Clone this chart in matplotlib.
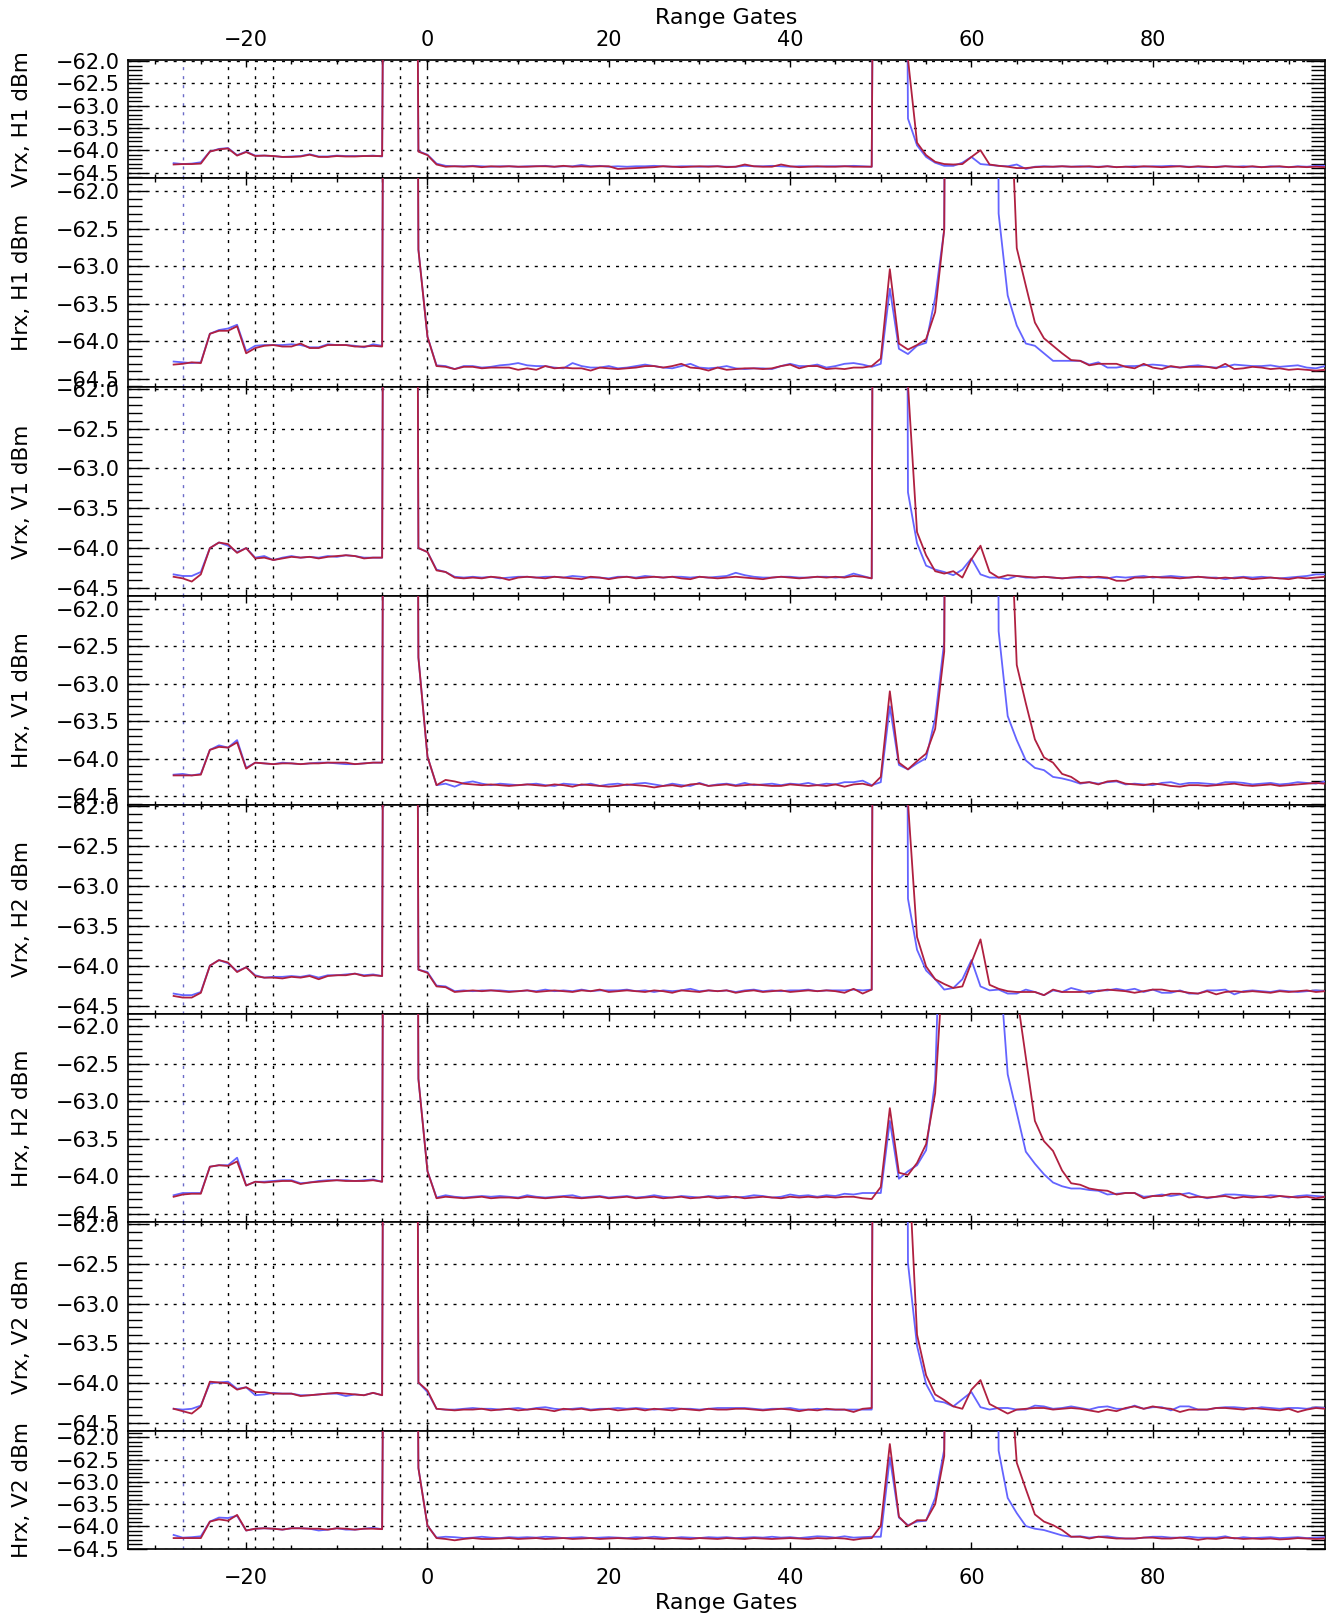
import matplotlib
matplotlib.use('Agg')
import matplotlib.pyplot as plt
from matplotlib.ticker import MultipleLocator, FuncFormatter

plt.rcParams['font.family'] = ['DejaVu Sans']

# range gate of every sample
gates = list(range(-28, 100))
marker_gates = [-22, -19, -17, -3, 0]
pulse_gate = -27

# off-scale samples (clipped at the top of each panel) are kept as -30 dBm
# ---- Vrx, H1
vrx_h1_blue = [
    -64.29, -64.31, -64.30, -64.27, -64.03, -63.97, -63.95, -64.11, -64.03, -64.12,
    -64.12, -64.13, -64.15, -64.14, -64.13, -64.09, -64.14, -64.14, -64.12, -64.13,
    -64.13, -64.13, -64.12, -64.14, -30.0, -30.0, -30.0, -64.02, -64.10, -64.30,
    -64.35, -64.36, -64.36, -64.35, -64.36, -64.37, -64.36, -64.36, -64.37, -64.36,
    -64.36, -64.35, -64.37, -64.36, -64.36, -64.33, -64.36, -64.35, -64.37, -64.36,
    -64.37, -64.36, -64.36, -64.35, -64.36, -64.37, -64.36, -64.36, -64.37, -64.36,
    -64.36, -64.37, -64.37, -64.35, -64.36, -64.36, -64.35, -64.36, -64.37, -64.36,
    -64.36, -64.37, -64.36, -64.36, -64.36, -64.35, -64.36, -64.37, -30.0, -30.0,
    -30.0, -63.29, -63.89, -64.15, -64.28, -64.35, -64.35, -64.28, -64.15, -64.31,
    -64.33, -64.35, -64.36, -64.32, -64.42, -64.37, -64.36, -64.37, -64.36, -64.37,
    -64.36, -64.37, -64.37, -64.36, -64.38, -64.37, -64.36, -64.37, -64.36, -64.36,
    -64.35, -64.36, -64.37, -64.37, -64.38, -64.37, -64.36, -64.37, -64.36, -64.37,
    -64.38, -64.36, -64.37, -64.38, -64.36, -64.37, -64.35, -64.35]
vrx_h1_red = [
    -64.32, -64.31, -64.31, -64.30, -64.03, -63.98, -63.96, -64.12, -64.04, -64.13,
    -64.12, -64.13, -64.15, -64.15, -64.14, -64.10, -64.15, -64.15, -64.13, -64.14,
    -64.14, -64.13, -64.13, -64.13, -30.0, -30.0, -30.0, -64.03, -64.11, -64.32,
    -64.37, -64.36, -64.37, -64.36, -64.38, -64.36, -64.37, -64.36, -64.37, -64.37,
    -64.36, -64.36, -64.37, -64.35, -64.37, -64.36, -64.37, -64.36, -64.36, -64.42,
    -64.41, -64.40, -64.39, -64.38, -64.36, -64.37, -64.38, -64.37, -64.36, -64.37,
    -64.36, -64.38, -64.37, -64.32, -64.36, -64.37, -64.37, -64.32, -64.36, -64.38,
    -64.37, -64.36, -64.37, -64.37, -64.36, -64.37, -64.37, -64.37, -30.0, -30.0,
    -30.0, -61.95, -63.83, -64.11, -64.26, -64.31, -64.32, -64.31, -64.15, -64.00,
    -64.32, -64.35, -64.37, -64.40, -64.40, -64.38, -64.37, -64.37, -64.36, -64.37,
    -64.37, -64.36, -64.38, -64.36, -64.38, -64.37, -64.38, -64.36, -64.37, -64.38,
    -64.37, -64.36, -64.38, -64.36, -64.37, -64.38, -64.36, -64.37, -64.38, -64.36,
    -64.38, -64.37, -64.36, -64.38, -64.37, -64.38, -64.37, -64.38]

# ---- Hrx, H1
hrx_h1_blue = [
    -64.27, -64.28, -64.29, -64.28, -63.90, -63.85, -63.83, -63.78, -64.13, -64.06,
    -64.05, -64.05, -64.05, -64.04, -64.05, -64.08, -64.08, -64.04, -64.05, -64.05,
    -64.06, -64.08, -64.04, -64.06, -30.0, -30.0, -30.0, -62.78, -63.94, -64.32,
    -64.33, -64.37, -64.33, -64.33, -64.35, -64.34, -64.32, -64.31, -64.29, -64.32,
    -64.33, -64.33, -64.35, -64.36, -64.29, -64.33, -64.35, -64.35, -64.33, -64.36,
    -64.35, -64.33, -64.31, -64.33, -64.35, -64.36, -64.33, -64.30, -64.35, -64.36,
    -64.35, -64.33, -64.36, -64.37, -64.36, -64.36, -64.37, -64.33, -64.30, -64.33,
    -64.33, -64.31, -64.35, -64.33, -64.30, -64.29, -64.31, -64.34, -64.30, -63.30,
    -64.10, -64.17, -64.06, -64.02, -63.42, -62.51, -30.0, -30.0, -30.0, -30.0,
    -30.0, -62.30, -63.39, -63.79, -64.03, -64.06, -64.16, -64.26, -64.26, -64.26,
    -64.26, -64.31, -64.28, -64.35, -64.35, -64.33, -64.33, -64.32, -64.31, -64.32,
    -64.34, -64.35, -64.33, -64.32, -64.34, -64.35, -64.34, -64.31, -64.32, -64.33,
    -64.33, -64.32, -64.34, -64.33, -64.32, -64.35, -64.36, -64.33]
hrx_h1_red = [
    -64.31, -64.30, -64.28, -64.29, -63.90, -63.86, -63.86, -63.80, -64.16, -64.09,
    -64.06, -64.05, -64.07, -64.07, -64.03, -64.09, -64.09, -64.05, -64.05, -64.05,
    -64.07, -64.07, -64.06, -64.07, -30.0, -30.0, -30.0, -62.78, -63.94, -64.33,
    -64.34, -64.37, -64.34, -64.34, -64.36, -64.35, -64.35, -64.35, -64.38, -64.36,
    -64.38, -64.33, -64.36, -64.35, -64.36, -64.36, -64.39, -64.35, -64.36, -64.37,
    -64.36, -64.35, -64.33, -64.33, -64.35, -64.33, -64.30, -64.35, -64.36, -64.39,
    -64.35, -64.38, -64.37, -64.36, -64.36, -64.37, -64.36, -64.33, -64.31, -64.36,
    -64.33, -64.33, -64.37, -64.36, -64.37, -64.35, -64.35, -64.33, -64.23, -63.04,
    -64.03, -64.11, -64.05, -63.97, -63.61, -62.51, -40.0, -30.0, -30.0, -30.0,
    -30.0, -30.0, -59.70, -62.76, -63.26, -63.75, -63.96, -64.06, -64.16, -64.25,
    -64.26, -64.32, -64.30, -64.30, -64.30, -64.34, -64.36, -64.30, -64.35, -64.37,
    -64.33, -64.35, -64.34, -64.34, -64.34, -64.36, -64.30, -64.37, -64.36, -64.34,
    -64.35, -64.37, -64.36, -64.38, -64.37, -64.38, -64.39, -64.38]

# ---- Vrx, V1
vrx_v1_blue = [
    -64.33, -64.35, -64.35, -64.30, -64.00, -63.93, -63.97, -64.05, -64.00, -64.12,
    -64.10, -64.15, -64.12, -64.10, -64.12, -64.11, -64.12, -64.10, -64.11, -64.09,
    -64.10, -64.12, -64.12, -64.12, -30.0, -30.0, -30.0, -64.00, -64.05, -64.27,
    -64.30, -64.36, -64.37, -64.36, -64.37, -64.36, -64.38, -64.37, -64.36, -64.36,
    -64.37, -64.36, -64.36, -64.37, -64.35, -64.36, -64.37, -64.37, -64.38, -64.36,
    -64.36, -64.37, -64.35, -64.36, -64.37, -64.36, -64.36, -64.37, -64.36, -64.37,
    -64.36, -64.35, -64.31, -64.34, -64.36, -64.37, -64.37, -64.36, -64.36, -64.37,
    -64.37, -64.36, -64.36, -64.37, -64.36, -64.32, -64.35, -64.38, -30.0, -30.0,
    -30.0, -63.30, -63.94, -64.22, -64.27, -64.30, -64.34, -64.27, -64.13, -64.33,
    -64.37, -64.37, -64.39, -64.35, -64.37, -64.37, -64.36, -64.37, -64.38, -64.37,
    -64.37, -64.36, -64.37, -64.38, -64.36, -64.37, -64.36, -64.35, -64.37, -64.36,
    -64.35, -64.36, -64.37, -64.36, -64.37, -64.37, -64.39, -64.37, -64.36, -64.37,
    -64.36, -64.37, -64.38, -64.37, -64.36, -64.35, -64.33, -64.33]
vrx_v1_red = [
    -64.36, -64.38, -64.42, -64.33, -64.00, -63.93, -63.95, -64.06, -64.00, -64.13,
    -64.12, -64.15, -64.13, -64.11, -64.12, -64.11, -64.13, -64.11, -64.10, -64.09,
    -64.10, -64.13, -64.12, -64.12, -30.0, -30.0, -30.0, -64.00, -64.05, -64.28,
    -64.30, -64.37, -64.38, -64.37, -64.38, -64.36, -64.37, -64.40, -64.37, -64.36,
    -64.37, -64.38, -64.36, -64.37, -64.38, -64.39, -64.36, -64.37, -64.39, -64.37,
    -64.36, -64.38, -64.37, -64.36, -64.37, -64.36, -64.38, -64.39, -64.36, -64.37,
    -64.38, -64.37, -64.36, -64.37, -64.38, -64.39, -64.37, -64.36, -64.37, -64.38,
    -64.37, -64.36, -64.37, -64.36, -64.37, -64.35, -64.36, -64.38, -30.0, -30.0,
    -30.0, -61.95, -63.80, -64.09, -64.29, -64.32, -64.29, -64.37, -64.14, -63.97,
    -64.30, -64.37, -64.34, -64.35, -64.36, -64.37, -64.36, -64.37, -64.38, -64.37,
    -64.36, -64.37, -64.36, -64.37, -64.41, -64.41, -64.37, -64.37, -64.36, -64.37,
    -64.37, -64.38, -64.37, -64.36, -64.37, -64.38, -64.37, -64.38, -64.37, -64.39,
    -64.38, -64.37, -64.38, -64.39, -64.37, -64.38, -64.37, -64.36]

# ---- Hrx, V1
hrx_v1_blue = [
    -64.21, -64.20, -64.22, -64.20, -63.88, -63.82, -63.85, -63.75, -64.12, -64.05,
    -64.06, -64.07, -64.05, -64.06, -64.07, -64.06, -64.05, -64.05, -64.06, -64.07,
    -64.07, -64.06, -64.05, -64.05, -30.0, -30.0, -30.0, -62.65, -63.97, -64.35,
    -64.33, -64.37, -64.32, -64.30, -64.33, -64.35, -64.33, -64.34, -64.35, -64.34,
    -64.33, -64.35, -64.36, -64.33, -64.34, -64.35, -64.33, -64.36, -64.34, -64.33,
    -64.35, -64.33, -64.32, -64.34, -64.36, -64.33, -64.35, -64.36, -64.32, -64.36,
    -64.34, -64.33, -64.35, -64.32, -64.35, -64.34, -64.33, -64.35, -64.33, -64.34,
    -64.32, -64.35, -64.33, -64.34, -64.31, -64.31, -64.29, -64.35, -64.31, -63.30,
    -64.08, -64.14, -64.06, -63.99, -63.46, -62.44, -30.0, -30.0, -30.0, -30.0,
    -30.0, -62.30, -63.43, -63.75, -64.02, -64.12, -64.15, -64.24, -64.26, -64.29,
    -64.33, -64.31, -64.33, -64.31, -64.30, -64.34, -64.33, -64.34, -64.35, -64.32,
    -64.31, -64.34, -64.32, -64.32, -64.33, -64.34, -64.31, -64.31, -64.32, -64.34,
    -64.33, -64.32, -64.34, -64.33, -64.31, -64.32, -64.33, -64.30]
hrx_v1_red = [
    -64.22, -64.22, -64.22, -64.21, -63.88, -63.84, -63.85, -63.78, -64.13, -64.05,
    -64.06, -64.07, -64.06, -64.06, -64.07, -64.06, -64.06, -64.05, -64.05, -64.05,
    -64.07, -64.06, -64.05, -64.05, -30.0, -30.0, -30.0, -62.65, -63.97, -64.35,
    -64.28, -64.30, -64.33, -64.34, -64.35, -64.34, -64.35, -64.36, -64.35, -64.34,
    -64.35, -64.36, -64.34, -64.35, -64.37, -64.34, -64.35, -64.36, -64.37, -64.36,
    -64.34, -64.35, -64.36, -64.38, -64.36, -64.35, -64.37, -64.34, -64.33, -64.36,
    -64.35, -64.34, -64.36, -64.35, -64.34, -64.35, -64.36, -64.36, -64.34, -64.35,
    -64.36, -64.35, -64.36, -64.34, -64.37, -64.34, -64.33, -64.36, -64.24, -63.10,
    -64.05, -64.14, -64.03, -63.93, -63.60, -62.57, -40.0, -30.0, -30.0, -30.0,
    -30.0, -30.0, -59.70, -62.75, -63.26, -63.74, -63.98, -64.05, -64.20, -64.24,
    -64.32, -64.31, -64.34, -64.30, -64.29, -64.33, -64.34, -64.35, -64.33, -64.34,
    -64.36, -64.37, -64.35, -64.35, -64.36, -64.35, -64.34, -64.33, -64.35, -64.36,
    -64.35, -64.34, -64.36, -64.35, -64.34, -64.33, -64.32, -64.33]

# ---- Vrx, H2
vrx_h2_blue = [
    -64.35, -64.37, -64.37, -64.33, -64.00, -63.93, -63.97, -64.07, -64.02, -64.12,
    -64.15, -64.14, -64.14, -64.13, -64.14, -64.12, -64.15, -64.12, -64.12, -64.11,
    -64.10, -64.12, -64.11, -64.13, -30.0, -30.0, -30.0, -64.05, -64.08, -64.25,
    -64.26, -64.32, -64.31, -64.32, -64.31, -64.31, -64.31, -64.32, -64.32, -64.31,
    -64.32, -64.30, -64.32, -64.31, -64.32, -64.30, -64.32, -64.31, -64.31, -64.31,
    -64.30, -64.32, -64.31, -64.33, -64.31, -64.32, -64.31, -64.29, -64.32, -64.31,
    -64.32, -64.31, -64.33, -64.31, -64.30, -64.32, -64.31, -64.32, -64.31, -64.31,
    -64.30, -64.32, -64.31, -64.31, -64.31, -64.30, -64.31, -64.30, -30.0, -30.0,
    -30.0, -63.16, -63.80, -64.06, -64.17, -64.30, -64.28, -64.17, -63.93, -64.26,
    -64.31, -64.30, -64.35, -64.35, -64.30, -64.33, -64.37, -64.31, -64.33, -64.28,
    -64.31, -64.35, -64.31, -64.31, -64.29, -64.31, -64.29, -64.33, -64.30, -64.34,
    -64.34, -64.31, -64.35, -64.35, -64.31, -64.31, -64.30, -64.36, -64.32, -64.31,
    -64.32, -64.33, -64.31, -64.32, -64.33, -64.32, -64.31, -64.32]
vrx_h2_red = [
    -64.38, -64.40, -64.40, -64.34, -64.00, -63.93, -63.96, -64.08, -64.02, -64.13,
    -64.15, -64.15, -64.16, -64.14, -64.15, -64.13, -64.17, -64.13, -64.12, -64.12,
    -64.10, -64.13, -64.12, -64.13, -30.0, -30.0, -30.0, -64.05, -64.09, -64.26,
    -64.27, -64.33, -64.32, -64.31, -64.32, -64.31, -64.32, -64.33, -64.32, -64.31,
    -64.33, -64.32, -64.31, -64.32, -64.33, -64.31, -64.32, -64.30, -64.33, -64.32,
    -64.31, -64.32, -64.33, -64.31, -64.32, -64.34, -64.31, -64.32, -64.33, -64.31,
    -64.32, -64.31, -64.34, -64.32, -64.31, -64.33, -64.32, -64.31, -64.33, -64.32,
    -64.31, -64.32, -64.31, -64.32, -64.34, -64.29, -64.35, -64.30, -30.0, -30.0,
    -30.0, -61.95, -63.64, -64.01, -64.17, -64.23, -64.28, -64.26, -63.96, -63.67,
    -64.24, -64.29, -64.32, -64.33, -64.33, -64.33, -64.37, -64.30, -64.33, -64.33,
    -64.33, -64.32, -64.32, -64.30, -64.31, -64.32, -64.34, -64.32, -64.30, -64.30,
    -64.32, -64.32, -64.34, -64.35, -64.32, -64.36, -64.33, -64.32, -64.33, -64.32,
    -64.33, -64.34, -64.32, -64.33, -64.32, -64.31, -64.33, -64.32]

# ---- Hrx, H2
hrx_h2_blue = [
    -64.25, -64.22, -64.22, -64.22, -63.87, -63.85, -63.85, -63.75, -64.12, -64.07,
    -64.07, -64.06, -64.05, -64.05, -64.09, -64.08, -64.06, -64.05, -64.05, -64.05,
    -64.06, -64.05, -64.04, -64.07, -30.0, -30.0, -30.0, -62.70, -63.93, -64.28,
    -64.25, -64.27, -64.28, -64.27, -64.26, -64.27, -64.26, -64.27, -64.28, -64.25,
    -64.27, -64.28, -64.27, -64.26, -64.25, -64.28, -64.27, -64.26, -64.28, -64.27,
    -64.26, -64.28, -64.27, -64.25, -64.27, -64.28, -64.26, -64.27, -64.28, -64.26,
    -64.27, -64.26, -64.28, -64.27, -64.25, -64.26, -64.28, -64.27, -64.24, -64.26,
    -64.25, -64.27, -64.25, -64.26, -64.23, -64.24, -64.22, -64.22, -64.22, -63.26,
    -64.03, -63.93, -63.85, -63.65, -62.72, -58.80, -30.0, -30.0, -30.0, -30.0,
    -30.0, -61.00, -62.64, -63.15, -63.67, -63.83, -63.97, -64.08, -64.13, -64.16,
    -64.16, -64.18, -64.19, -64.24, -64.23, -64.22, -64.22, -64.27, -64.26, -64.24,
    -64.26, -64.24, -64.22, -64.26, -64.29, -64.27, -64.24, -64.24, -64.25, -64.26,
    -64.27, -64.25, -64.26, -64.28, -64.26, -64.25, -64.26, -64.27]
hrx_h2_red = [
    -64.27, -64.24, -64.23, -64.23, -63.87, -63.85, -63.86, -63.80, -64.12, -64.07,
    -64.08, -64.07, -64.06, -64.06, -64.10, -64.08, -64.07, -64.06, -64.05, -64.06,
    -64.06, -64.06, -64.05, -64.07, -30.0, -30.0, -30.0, -62.70, -63.93, -64.29,
    -64.27, -64.28, -64.29, -64.28, -64.27, -64.29, -64.28, -64.28, -64.29, -64.27,
    -64.28, -64.29, -64.28, -64.27, -64.28, -64.29, -64.28, -64.27, -64.29, -64.28,
    -64.27, -64.29, -64.28, -64.27, -64.29, -64.28, -64.27, -64.29, -64.28, -64.27,
    -64.29, -64.28, -64.27, -64.29, -64.28, -64.27, -64.28, -64.29, -64.27, -64.28,
    -64.27, -64.28, -64.27, -64.28, -64.27, -64.27, -64.29, -64.30, -64.14, -63.09,
    -63.95, -63.98, -63.82, -63.57, -62.89, -60.90, -30.0, -30.0, -30.0, -30.0,
    -30.0, -30.0, -30.0, -61.57, -62.41, -63.26, -63.53, -63.66, -63.92, -64.09,
    -64.11, -64.16, -64.18, -64.19, -64.24, -64.22, -64.22, -64.29, -64.26, -64.26,
    -64.23, -64.23, -64.28, -64.27, -64.28, -64.27, -64.26, -64.29, -64.27, -64.28,
    -64.27, -64.28, -64.26, -64.27, -64.28, -64.27, -64.29, -64.27]

# ---- Vrx, V2
vrx_v2_blue = [
    -64.32, -64.33, -64.32, -64.28, -64.00, -63.99, -63.98, -64.07, -64.05, -64.15,
    -64.14, -64.12, -64.13, -64.13, -64.15, -64.15, -64.14, -64.13, -64.13, -64.16,
    -64.14, -64.15, -64.12, -64.15, -30.0, -30.0, -30.0, -63.99, -64.11, -64.32,
    -64.33, -64.33, -64.32, -64.31, -64.32, -64.32, -64.33, -64.32, -64.31, -64.33,
    -64.31, -64.30, -64.32, -64.33, -64.32, -64.31, -64.33, -64.32, -64.32, -64.31,
    -64.32, -64.31, -64.32, -64.33, -64.32, -64.31, -64.32, -64.32, -64.33, -64.32,
    -64.31, -64.31, -64.31, -64.31, -64.32, -64.33, -64.32, -64.32, -64.31, -64.33,
    -64.33, -64.32, -64.33, -64.33, -64.33, -64.33, -64.33, -64.33, -30.0, -30.0,
    -30.0, -62.49, -63.53, -64.01, -64.22, -64.24, -64.29, -64.20, -64.11, -64.30,
    -64.33, -64.31, -64.31, -64.33, -64.33, -64.28, -64.29, -64.32, -64.31, -64.29,
    -64.31, -64.33, -64.30, -64.29, -64.32, -64.32, -64.28, -64.32, -64.30, -64.30,
    -64.34, -64.29, -64.29, -64.33, -64.33, -64.31, -64.30, -64.30, -64.31, -64.32,
    -64.30, -64.31, -64.32, -64.31, -64.31, -64.32, -64.30, -64.31]
vrx_v2_red = [
    -64.32, -64.35, -64.38, -64.29, -63.98, -63.99, -64.00, -64.08, -64.05, -64.11,
    -64.11, -64.13, -64.13, -64.13, -64.16, -64.15, -64.14, -64.13, -64.12, -64.13,
    -64.14, -64.15, -64.12, -64.15, -30.0, -30.0, -30.0, -63.99, -64.09, -64.32,
    -64.33, -64.34, -64.33, -64.33, -64.32, -64.34, -64.33, -64.32, -64.34, -64.33,
    -64.32, -64.33, -64.35, -64.32, -64.33, -64.32, -64.34, -64.33, -64.32, -64.34,
    -64.33, -64.32, -64.34, -64.32, -64.33, -64.34, -64.32, -64.33, -64.34, -64.32,
    -64.33, -64.33, -64.32, -64.32, -64.33, -64.34, -64.33, -64.32, -64.33, -64.35,
    -64.33, -64.34, -64.32, -64.33, -64.33, -64.36, -64.32, -64.31, -30.0, -30.0,
    -30.0, -61.03, -63.39, -63.90, -64.14, -64.21, -64.29, -64.32, -64.08, -63.96,
    -64.26, -64.32, -64.38, -64.33, -64.32, -64.31, -64.31, -64.33, -64.32, -64.31,
    -64.32, -64.34, -64.36, -64.33, -64.35, -64.31, -64.29, -64.32, -64.29, -64.31,
    -64.32, -64.36, -64.33, -64.33, -64.33, -64.31, -64.31, -64.32, -64.33, -64.31,
    -64.32, -64.33, -64.34, -64.32, -64.36, -64.33, -64.31, -64.32]

# ---- Hrx, V2
hrx_v2_blue = [
    -64.19, -64.25, -64.24, -64.22, -63.89, -63.80, -63.81, -63.76, -64.09, -64.05,
    -64.04, -64.05, -64.07, -64.04, -64.04, -64.05, -64.09, -64.07, -64.04, -64.07,
    -64.07, -64.05, -64.03, -64.06, -30.0, -30.0, -30.0, -62.69, -63.98, -64.25,
    -64.23, -64.24, -64.26, -64.25, -64.23, -64.25, -64.26, -64.24, -64.25, -64.24,
    -64.25, -64.23, -64.24, -64.26, -64.25, -64.24, -64.26, -64.25, -64.24, -64.25,
    -64.26, -64.24, -64.25, -64.23, -64.25, -64.26, -64.24, -64.25, -64.26, -64.24,
    -64.25, -64.24, -64.26, -64.25, -64.24, -64.25, -64.23, -64.25, -64.24, -64.26,
    -64.24, -64.22, -64.23, -64.25, -64.22, -64.25, -64.24, -64.23, -64.23, -62.45,
    -63.80, -63.97, -63.89, -63.87, -63.36, -62.27, -30.0, -30.0, -30.0, -30.0,
    -30.0, -62.30, -63.36, -63.70, -63.99, -64.05, -64.08, -64.14, -64.20, -64.23,
    -64.22, -64.25, -64.23, -64.22, -64.25, -64.27, -64.27, -64.25, -64.23, -64.23,
    -64.25, -64.25, -64.23, -64.25, -64.25, -64.25, -64.22, -64.27, -64.24, -64.26,
    -64.25, -64.24, -64.26, -64.25, -64.24, -64.26, -64.25, -64.24]
hrx_v2_red = [
    -64.26, -64.26, -64.26, -64.26, -63.89, -63.84, -63.87, -63.74, -64.09, -64.05,
    -64.04, -64.05, -64.07, -64.04, -64.04, -64.05, -64.05, -64.07, -64.04, -64.05,
    -64.07, -64.05, -64.05, -64.06, -30.0, -30.0, -30.0, -62.69, -63.98, -64.26,
    -64.28, -64.31, -64.28, -64.26, -64.28, -64.28, -64.27, -64.26, -64.28, -64.27,
    -64.26, -64.28, -64.27, -64.26, -64.28, -64.27, -64.26, -64.28, -64.27, -64.26,
    -64.27, -64.28, -64.26, -64.27, -64.28, -64.26, -64.27, -64.28, -64.26, -64.27,
    -64.28, -64.26, -64.27, -64.28, -64.26, -64.27, -64.28, -64.27, -64.26, -64.27,
    -64.28, -64.26, -64.27, -64.26, -64.27, -64.30, -64.27, -64.26, -63.99, -62.15,
    -63.78, -63.99, -63.86, -63.86, -63.50, -62.42, -40.0, -30.0, -30.0, -30.0,
    -30.0, -30.0, -59.70, -62.57, -63.16, -63.73, -63.89, -63.97, -64.08, -64.23,
    -64.23, -64.27, -64.23, -64.25, -64.27, -64.27, -64.27, -64.25, -64.25, -64.27,
    -64.27, -64.25, -64.27, -64.30, -64.27, -64.28, -64.25, -64.26, -64.28, -64.27,
    -64.28, -64.27, -64.29, -64.28, -64.26, -64.27, -64.28, -64.27]

panel_labels = ['Vrx, H1 dBm', 'Hrx, H1 dBm', 'Vrx, V1 dBm', 'Hrx, V1 dBm',
                'Vrx, H2 dBm', 'Hrx, H2 dBm', 'Vrx, V2 dBm', 'Hrx, V2 dBm']
blue_series = [vrx_h1_blue, hrx_h1_blue, vrx_v1_blue, hrx_v1_blue,
               vrx_h2_blue, hrx_h2_blue, vrx_v2_blue, hrx_v2_blue]
red_series = [vrx_h1_red, hrx_h1_red, vrx_v1_red, hrx_v1_red,
              vrx_h2_red, hrx_h2_red, vrx_v2_red, hrx_v2_red]
y_ranges = [(-64.63, -61.98), (-64.61, -61.83), (-64.60, -61.98), (-64.61, -61.83),
            (-64.60, -61.98), (-64.61, -61.83), (-64.60, -61.98), (-64.505, -61.86)]

# page layout in pixels
W, H = 1333, 1620
left_px, right_px = 128.3, 1325.0
edges_px = [60.3, 178.3, 387.1, 595.9, 804.7, 1013.5, 1222.3, 1431.1, 1549.0]

BLUE = '#6464ff'
RED = '#b02040'
DOT = (0, (2.2, 4.3))
FS = 15


def minus_fmt(v, pos):
    return f'{v:.1f}'.replace('-', '\u2212')


def gate_fmt(v, pos):
    return f'{v:.0f}'.replace('-', '\u2212')


fig = plt.figure(figsize=(W / 100, H / 100), dpi=100)

for i in range(8):
    top, bot = edges_px[i], edges_px[i + 1]
    ax = fig.add_axes([left_px / W, 1 - bot / H, (right_px - left_px) / W, (bot - top) / H])

    ax.plot(gates, blue_series[i], color=BLUE, lw=1.3, zorder=3)
    ax.plot(gates, red_series[i], color=RED, lw=1.3, zorder=4)

    ax.axvline(pulse_gate, color='#6a6ac8', ls=DOT, lw=1.0, zorder=1)
    for g in marker_gates:
        ax.axvline(g, color='black', ls=DOT, lw=1.0, zorder=1)

    ax.set_xlim(-33, 99)
    ax.set_ylim(*y_ranges[i])

    ax.yaxis.set_major_locator(MultipleLocator(0.5))
    ax.yaxis.set_minor_locator(MultipleLocator(0.1))
    ax.yaxis.set_major_formatter(FuncFormatter(minus_fmt))
    ax.xaxis.set_major_locator(MultipleLocator(20))
    ax.xaxis.set_minor_locator(MultipleLocator(5))
    ax.xaxis.set_major_formatter(FuncFormatter(gate_fmt))
    ax.grid(axis='y', which='major', color='black', ls=DOT, lw=1.0, zorder=1)

    ax.tick_params(axis='y', which='major', direction='in', length=14, width=1.0,
                   left=True, right=True, labelsize=FS, pad=6)
    ax.tick_params(axis='y', which='minor', direction='in', length=10, width=1.0,
                   left=True, right=True)
    ax.tick_params(axis='x', which='major', direction='in', length=5, width=1.0,
                   top=True, bottom=True, labelbottom=False, labeltop=False, labelsize=FS)
    ax.tick_params(axis='x', which='minor', direction='in', length=3, width=1.0,
                   top=True, bottom=True)
    for sp in ax.spines.values():
        sp.set_linewidth(1.2)

    if i == 0:
        ax.tick_params(axis='x', which='major', labeltop=True, pad=7.5)
    if i == 7:
        ax.tick_params(axis='x', which='major', labelbottom=True, pad=14)

    fig.text(22 / W, 1 - (top + bot) / 2 / H, panel_labels[i], rotation=90,
             ha='center', va='center', fontsize=15.5)

mid_x = (left_px + right_px) / 2 / W
fig.text(mid_x, 1 - 18 / H, 'Range Gates', ha='center', va='center', fontsize=16)
fig.text(mid_x, 1 - 1603 / H, 'Range Gates', ha='center', va='center', fontsize=16)

fig.savefig('out.png', dpi=100)
